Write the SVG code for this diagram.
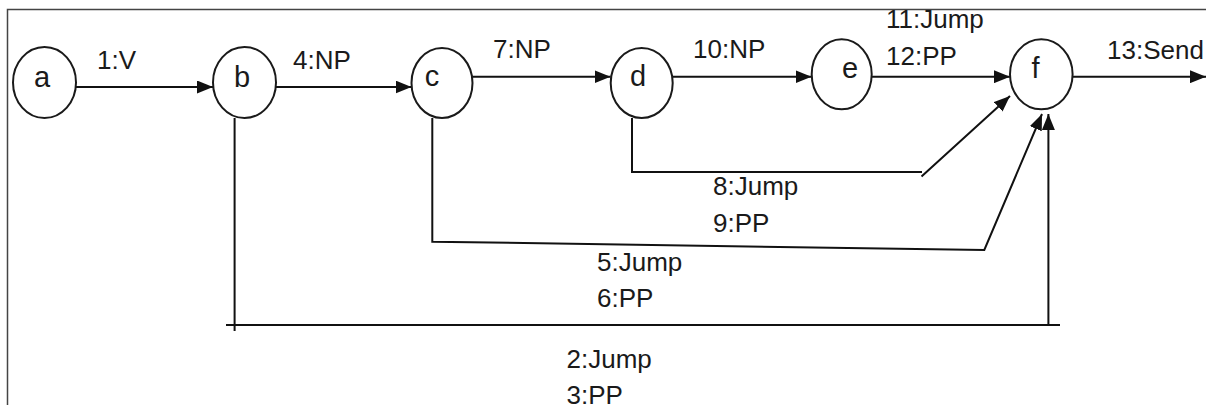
<svg xmlns="http://www.w3.org/2000/svg" width="1206" height="405" viewBox="0 0 1206 405">
<style>
.node ellipse{fill:#fff;stroke:#1a1a1a;stroke-width:2}
.nl{font-family:"Liberation Sans",Arial,sans-serif;font-size:29px;fill:#1a1a1a;text-anchor:middle}
.el{font-family:"Liberation Sans",Arial,sans-serif;font-size:26px;fill:#1a1a1a}
.c{fill:none;stroke:#111;stroke-width:2}
.frame{fill:none;stroke:#444;stroke-width:1.5}
</style>
<defs>
<marker id="ah" markerUnits="userSpaceOnUse" markerWidth="16" markerHeight="13" refX="16" refY="6.5" orient="auto">
<path d="M0,0 L16,6.5 L0,13 z" fill="#111"/>
</marker>
</defs>
<rect width="1206" height="405" fill="#fff"/>
<path class="frame" d="M7.5,405 V9.5 H1206"/>
<g id="connectors">
<path class="c" d="M76,87 H213" marker-end="url(#ah)"/>
<path class="c" d="M276,87 H411.5" marker-end="url(#ah)"/>
<path class="c" d="M472.5,76.7 H610.5" marker-end="url(#ah)"/>
<path class="c" d="M672.5,76.7 H811.5" marker-end="url(#ah)"/>
<path class="c" d="M871.5,76.7 H1010" marker-end="url(#ah)"/>
<path class="c" d="M1072.5,76.7 H1206" marker-end="url(#ah)"/>
<path class="c" d="M632,118 V172 H922 M921.5,176.5 L1010,96" marker-end="url(#ah)"/>
<path class="c" d="M432.3,118 V241.7 L984.3,250 L1042,114" marker-end="url(#ah)"/>
<path class="c" d="M234.6,118 V331 M226,325 H1060 M1048.4,325 V114" marker-end="url(#ah)"/>
</g>
<g id="node-a" class="node"><ellipse cx="44.5" cy="82.5" rx="31.5" ry="35.5"/><text class="nl" x="42" y="87">a</text></g>
<g id="node-b" class="node"><ellipse cx="244.5" cy="82.5" rx="31.5" ry="35.5"/><text class="nl" x="242" y="87">b</text></g>
<g id="node-c" class="node"><ellipse cx="442" cy="83" rx="30.5" ry="35"/><text class="nl" x="432" y="86">c</text></g>
<g id="node-d" class="node"><ellipse cx="641.7" cy="83" rx="31" ry="35"/><text class="nl" x="638" y="86">d</text></g>
<g id="node-e" class="node"><ellipse cx="841.7" cy="74.3" rx="30" ry="35"/><text class="nl" x="850" y="78">e</text></g>
<g id="node-f" class="node"><ellipse cx="1041.3" cy="74.3" rx="31.3" ry="35"/><text class="nl" x="1035.5" y="78">f</text></g>
<g id="labels">
<text class="el" x="97" y="69">1:V</text>
<text class="el" x="293" y="69">4:NP</text>
<text class="el" x="493" y="58">7:NP</text>
<text class="el" x="693" y="58">10:NP</text>
<text class="el" x="886" y="28">11:Jump</text>
<text class="el" x="886" y="65">12:PP</text>
<text class="el" x="1107" y="59">13:Send</text>
<text class="el" x="713" y="194.5">8:Jump</text>
<text class="el" x="713" y="231.5">9:PP</text>
<text class="el" x="597" y="270.5">5:Jump</text>
<text class="el" x="597" y="306.5">6:PP</text>
<text class="el" x="566.5" y="368">2:Jump</text>
<text class="el" x="566.5" y="404">3:PP</text>
</g>
</svg>
